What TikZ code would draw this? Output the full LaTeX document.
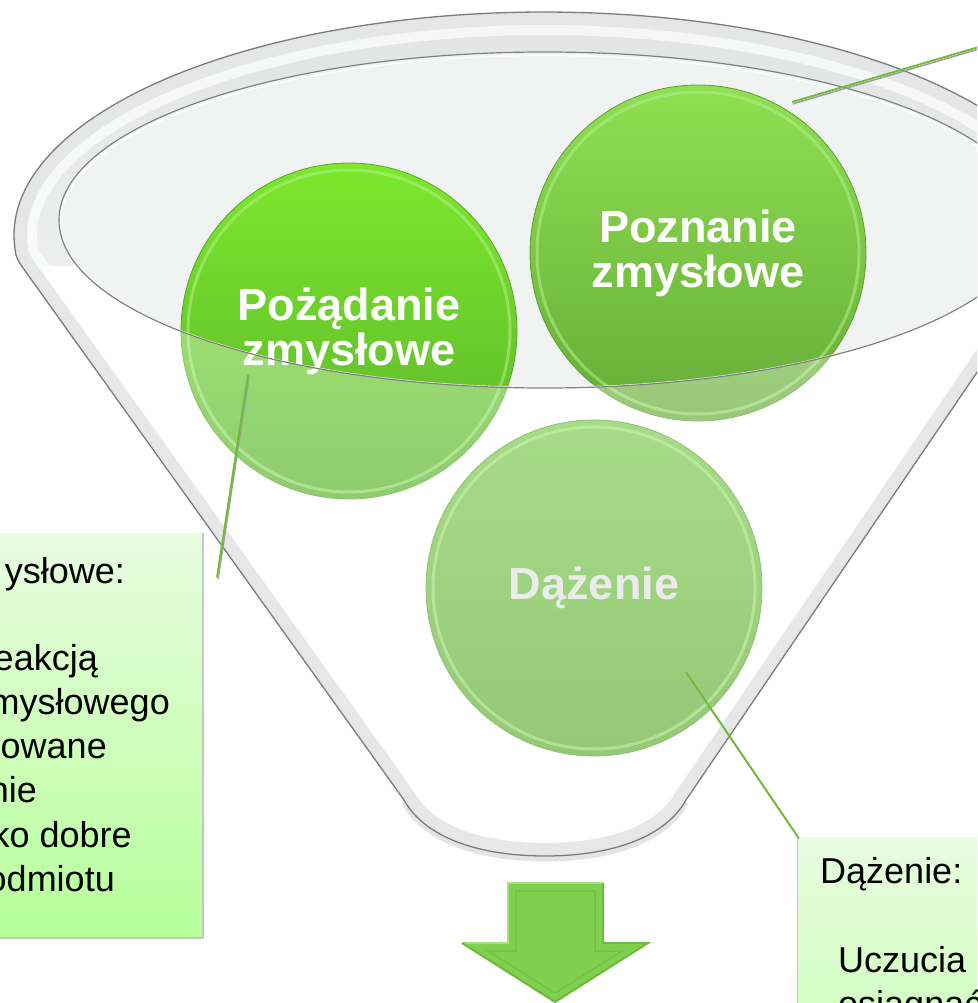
\documentclass[tikz,border=0pt]{standalone}
\usepackage{fontspec}
\setmainfont{Liberation Sans}
\definecolor{backTop}{HTML}{E7E9E9}
\definecolor{backBot}{HTML}{F3F3F3}
\definecolor{innerFill}{HTML}{F1F3F3}
\definecolor{ringTint}{HTML}{DFE1E1}
\definecolor{faceTint}{HTML}{ECEEEE}
\definecolor{wallBand}{HTML}{E4E6E6}
\definecolor{outlineGrey}{HTML}{7C7C7C}
\definecolor{pzTop}{HTML}{7DE82C}
\definecolor{pzBot}{HTML}{5AB22C}
\definecolor{pzEdge}{HTML}{58A82A}
\definecolor{pnTop}{HTML}{8FE052}
\definecolor{pnBot}{HTML}{66AC38}
\definecolor{pnEdge}{HTML}{5E9E34}
\definecolor{dzTop}{HTML}{7ACB4C}
\definecolor{dzBot}{HTML}{62AE34}
\definecolor{dzEdge}{HTML}{5EA232}
\definecolor{dzText}{HTML}{E2E2E2}
\definecolor{hlGreen}{HTML}{B4F08A}
\definecolor{calloutGreen}{HTML}{6CC02F}
\definecolor{boxTop}{HTML}{E8FCE0}
\definecolor{boxBot}{HTML}{B6FF9A}
\definecolor{arrowFill}{HTML}{80CF4F}
\definecolor{arrowLight}{HTML}{A2E27A}
\definecolor{arrowDark}{HTML}{6CBA3E}
\tikzset{
  bubble/.style={circle, minimum size=336pt, inner sep=0pt, align=center,
    font=\bfseries\fontsize{45}{45}\selectfont, text=white, line width=0.8pt},
  bubblehl/.style={draw=hlGreen, line width=3pt, opacity=0.55},
  calloutline/.style={draw=calloutGreen, line width=1.8pt},
  calloutshadow/.style={draw=gray!75, line width=1.6pt, transform canvas={xshift=1pt,yshift=-1.8pt}},
  notebox/.style={rectangle, inner sep=0pt, top color=boxTop, bottom color=boxBot, draw=none},
  boxtext/.style={font=\fontsize{36}{44}\selectfont, text=black, inner sep=0pt},
}
\begin{document}
\begin{tikzpicture}[x=1pt,y=-1pt]
\useasboundingbox (0,0) rectangle (977,1003);
\clip (0,0) rectangle (977,1003);

% ---------- funnel silhouette ----------
\path[save path=\funnel] (545,12) arc[start angle=-90, end angle=-184, x radius=531, y radius=223]
  .. controls (15.5,256) and (18,261) .. (23,268)
  -- (404,800) .. controls (425,838) and (480,856) .. (545,856)
  .. controls (610,856) and (665,838) .. (686,800)
  -- (1048,268) .. controls (1062,258) and (1074.5,256) .. (1074.7,250.6)
  arc[start angle=4, end angle=-90, x radius=531, y radius=223] -- cycle;

% soft shadow under the bottom
\draw[black!30, line width=5pt, opacity=0.35, transform canvas={yshift=-3pt}]
  (404,800) .. controls (425,838) and (480,856) .. (545,856)
  .. controls (610,856) and (665,838) .. (686,800);

% back of the funnel
\shade[top color=backTop, bottom color=backBot, use path=\funnel];
% open top (inside)
\fill[innerFill] (545,220) ellipse[x radius=486, y radius=168];

% ---------- circles ----------
\node[bubble, top color=pzTop, bottom color=pzBot, draw=pzEdge] (pozadanie) at (349,331) {Pożądanie\\zmysłowe};
\node[bubble, top color=pnTop, bottom color=pnBot, draw=pnEdge] (poznanie) at (698,253) {Poznanie\\zmysłowe};
\node[bubble, top color=dzTop, bottom color=dzBot, draw=dzEdge, text=dzText] (dazenie) at (594,588) {Dążenie};
\draw[bubblehl] (pozadanie.center) circle[radius=161];
\draw[bubblehl] (poznanie.center) circle[radius=161];
\draw[bubblehl] (dazenie.center) circle[radius=161];

% ---------- glass front ----------
\begin{scope}
  \clip[use path=\funnel];
  \fill[white, opacity=0.33, even odd rule] (-20,-20) rectangle (1120,1100)
    (545,220) ellipse[x radius=486, y radius=168];
  \begin{scope}
    % everything except the open top
    \clip (-20,-20) -- (1120,-20) -- (1120,1100) -- (-20,1100) -- (-20,220) -- (59,220)
      arc[start angle=180, end angle=-180, x radius=486, y radius=168] -- (-20,220) -- cycle;
    % rim ring tint, fading into the front face
    \shade[top color=ringTint, bottom color=faceTint, opacity=0.9] (-20,12) rectangle (1120,265);
    % glass thickness along the rim and the walls
    \draw[white, line width=46pt, opacity=0.7, use path=\funnel];
    \draw[wallBand, line width=26pt, opacity=0.9, use path=\funnel];
    \draw[black!10, line width=4pt, use path=\funnel];
  \end{scope}
\end{scope}

% outlines
\draw[outlineGrey, line width=1.3pt, use path=\funnel];
\draw[white, line width=1.5pt, opacity=0.8] (545,221.5) ellipse[x radius=484, y radius=166];
\draw[black!50, line width=1.2pt] (545,220) ellipse[x radius=486, y radius=168];

% ---------- arrow ----------
\path[save path=\arrowshape] (508,883) -- (603,883) -- (603,943) -- (648,943) -- (555,1002) -- (462,943) -- (508,943) -- cycle;
\fill[arrowFill, use path=\arrowshape];
\draw[arrowLight, line width=2pt, line join=miter] (462,943) -- (508,943) -- (508,883) -- (603,883);
\draw[arrowDark, line width=2pt, line join=miter] (603,883) -- (603,943) -- (648,943) -- (555,1002) -- (462,943);
\draw[arrowDark, line width=1.5pt, opacity=0.6] (516,891) -- (595,891) -- (595,951) -- (622,951) -- (555,993) -- (488,951) -- (516,951) -- cycle;

% ---------- note boxes ----------
\node[notebox, anchor=north east, minimum width=240pt, minimum height=404pt] (lbox) at (202,533) {};
\draw[gray!45, line width=2pt] ([xshift=1pt]lbox.north east) -- ([xshift=1pt,yshift=-1pt]lbox.south east) -- ([yshift=-1pt]lbox.south west);
\node[notebox, anchor=north west, minimum width=260pt, minimum height=404pt] (rbox) at (798,837) {};
\draw[gray!45, line width=1.8pt] ([xshift=-0.5pt]rbox.north west) -- ([xshift=-0.5pt]rbox.south west);

% left box text (cut by the picture's left edge, as in the reference)
\node[boxtext, anchor=base east] (l1) at (125,583) {ysłowe:};
\node[boxtext, anchor=base east] (l2) at (98,670) {eakcją};
\node[boxtext, anchor=base east] (l3) at (170,714) {mysłowego};
\node[boxtext, anchor=base east] (l4) at (107,758) {owane};
\node[boxtext, anchor=base east] (l5) at (37,802) {nie};
\node[boxtext, anchor=base east] (l6) at (132,847) {ko dobre};
\node[boxtext, anchor=base east] (l7) at (115,891) {odmiotu};

% right box text (cut by the picture's right and bottom edges)
\node[boxtext, anchor=base west] (r1) at (820,883) {Dążenie:};
\node[boxtext, anchor=base west] (r2) at (838,972) {Uczucia};
\node[boxtext, anchor=base west] (r3) at (838,1016) {osiągnąć};

% ---------- callout connectors ----------
\coordinate (pzA) at (248,375);
\coordinate (pzB) at (217,577);
\coordinate (pnA) at (792,102);
\coordinate (pnB) at (1070,20);
\coordinate (dzA) at (686,672);
\draw[calloutshadow] (pzA) -- (pzB);
\draw[calloutline] (pzA) -- (pzB);
\draw[calloutshadow] (pnA) -- (pnB);
\draw[calloutline] (pnA) -- (pnB);
\draw[calloutshadow] (dzA) -- (rbox.north west);
\draw[calloutline] (dzA) -- (rbox.north west);
\end{tikzpicture}
\end{document}
